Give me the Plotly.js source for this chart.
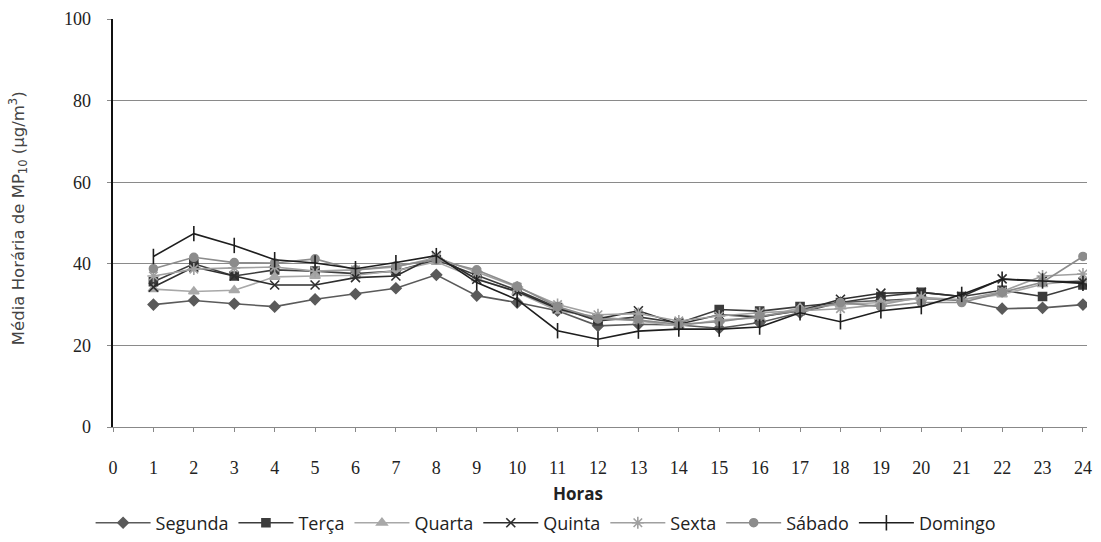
<!DOCTYPE html>
<html>
<head>
<meta charset="utf-8">
<script src="https://cdn.plot.ly/plotly-3.0.1.min.js"></script>
<style>html,body{margin:0;padding:0;background:#fff;}#chart{width:1101px;height:542px;}</style>
</head>
<body>
<div id="chart"></div>
<script>
const hours = [1,2,3,4,5,6,7,8,9,10,11,12,13,14,15,16,17,18,19,20,21,22,23,24];
const xTickLabels = ["0","1","2","3","4","5","6","7","8","9","10","11","12","13","14","15","16","17","18","19","20","21","22","23","24"];
const segunda = [30.0,31.0,30.2,29.5,31.3,32.6,34.0,37.3,32.2,30.5,28.5,24.8,25.2,25.0,24.2,25.6,28.0,30.5,31.0,31.5,31.0,29.0,29.2,30.0];
const terca   = [35.6,40.0,37.0,38.5,38.2,37.6,38.2,41.0,37.2,33.5,29.3,26.0,27.0,25.5,28.8,28.4,29.5,30.5,32.0,33.0,32.0,33.5,32.0,34.8];
const quarta  = [33.8,33.2,33.5,36.8,37.0,37.2,38.3,40.5,36.4,33.0,28.5,27.0,26.0,24.8,26.2,26.8,29.2,30.0,30.5,31.5,31.2,32.5,35.0,36.0];
const quinta  = [34.3,39.2,37.0,34.8,34.8,36.6,37.0,42.0,36.2,33.2,29.0,26.5,28.5,25.2,27.5,27.0,28.5,31.3,32.8,33.0,32.0,36.3,35.8,35.5];
const sexta   = [37.0,38.7,39.0,39.2,38.2,38.5,39.2,41.5,38.0,34.3,30.0,27.5,27.8,26.0,27.2,28.0,28.5,29.0,30.0,31.8,31.2,33.2,37.0,37.5];
const sabado  = [38.8,41.6,40.3,40.2,41.2,38.5,39.5,41.0,38.5,34.5,29.5,26.5,26.2,25.2,25.8,27.2,28.5,30.5,29.5,30.5,30.5,33.0,35.5,41.8];
const domingo = [41.8,47.4,44.5,41.0,40.2,38.8,40.3,42.0,35.4,31.2,23.6,21.5,23.5,24.0,24.0,24.5,28.0,25.8,28.5,29.5,32.5,36.2,35.8,35.2];

const seriesNames = ["Segunda","Terça","Quarta","Quinta","Sexta","Sábado","Domingo"];
const seriesData = [segunda, terca, quarta, quinta, sexta, sabado, domingo];
const lineColors = ["#5a5a5a","#3c3c3c","#a8a8a8","#2e2e2e","#a0a0a0","#8c8c8c","#1e1e1e"];
const markerSymbols = ["diamond","square","triangle-up","x-thin-open","asterisk-open","circle","line-ns-open"];
const markerSizes = [8,8,9,9,10,8,11];

const traces = seriesNames.map((n,i)=>({
  type:'scatter', mode:'lines+markers', name:n, x:hours, y:seriesData[i],
  line:{color:lineColors[i], width:1.6},
  marker:{symbol:markerSymbols[i], size:markerSizes[i], color:lineColors[i],
          line:{color:lineColors[i], width:1.6}}
}));

const layout = {
  width:1101, height:542,
  paper_bgcolor:'#ffffff', plot_bgcolor:'#ffffff',
  margin:{l:113, r:14, t:19, b:115},
  showlegend:true,
  legend:{orientation:'h', xref:'container', yref:'container', x:0.496, xanchor:'center', y:0.035, yanchor:'middle',
          font:{family:'Open Sans, sans-serif', size:18, color:'#222'},
          itemwidth:55, tracegroupgap:0},
  xaxis:{range:[0,24.1], tickmode:'array', tickvals:xTickLabels.map(Number), ticktext:xTickLabels,
         automargin:false,
         showgrid:false, zeroline:false, showline:true, linecolor:'#888', linewidth:1,
         ticks:'outside', ticklen:4, tickcolor:'#888', ticklabelstandoff:20,
         tickfont:{family:'Liberation Serif, serif', size:18, color:'#222'}},
  yaxis:{range:[0,100], tickvals:[0,20,40,60,80,100], showgrid:true, gridcolor:'#8a8a8a', gridwidth:1,
         automargin:false,
         zeroline:false, showline:true, linecolor:'#111', linewidth:2.5,
         ticks:'outside', ticklen:4, tickcolor:'#888', ticklabelstandoff:12,
         tickfont:{family:'Liberation Serif, serif', size:18, color:'#222'}},
  annotations:[
    {text:'<b>Horas</b>', xref:'paper', yref:'paper', x:0.477, y:-0.164, xanchor:'center', yanchor:'middle',
     showarrow:false, font:{family:'Open Sans, sans-serif', size:17, color:'#222'}},
    {text:'Média Horária de MP<sub>10</sub> (µg/m<sup>3</sup>)', xref:'paper', yref:'paper',
     x:-0.0975, y:0.512, xanchor:'center', yanchor:'middle', textangle:-90,
     showarrow:false, font:{family:'DejaVu Sans, sans-serif', size:16.5, color:'#444'}}
  ]
};

Plotly.newPlot('chart', traces, layout, {displayModeBar:false, staticPlot:true});
</script>
</body>
</html>
